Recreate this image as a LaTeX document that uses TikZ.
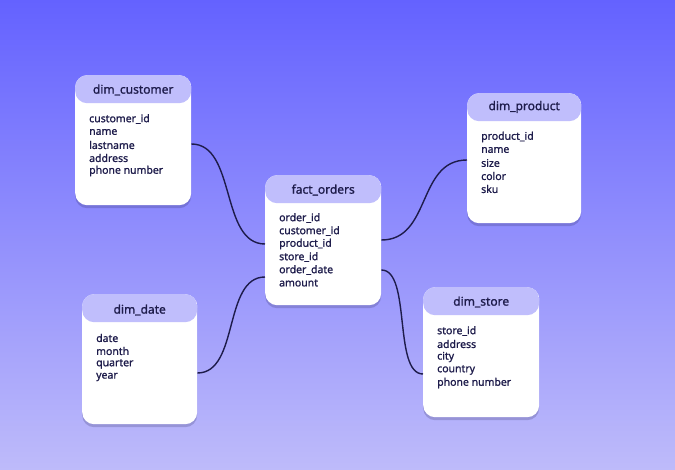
\documentclass[tikz,border=0pt]{standalone}
\usepackage{fontspec}
\setmainfont{Noto Sans}
\newfontfamily\medfont[FakeBold=1.1]{Noto Sans}
\usepackage{tikz}
\usetikzlibrary{positioning,shadows}

\definecolor{bgtop}{RGB}{100,98,255}
\definecolor{bgbot}{RGB}{190,187,250}
\definecolor{headfill}{RGB}{192,190,252}
\definecolor{ink}{RGB}{30,28,75}

\tikzset{
  table/.style={fill=white, rounded corners=12pt, minimum width=116pt,
    minimum height=130pt, anchor=north west, inner sep=0pt,
    drop shadow={shadow xshift=0pt, shadow yshift=-3pt, opacity=0.2, fill=ink},
    path picture={\fill[headfill] (path picture bounding box.north west)
      rectangle ([yshift=-28pt]path picture bounding box.north east);}},
  title/.style={font=\medfont\fontsize{12}{14}\selectfont, text=ink},
  field/.style={font=\medfont\fontsize{10.5}{13}\selectfont, text=ink, anchor=west, inner sep=0pt},
  link/.style={draw=ink, line width=1.4pt}
}

\begin{document}
\begin{tikzpicture}[x=1pt, y=-1pt]

% Background
\useasboundingbox (0,0) rectangle (675,470);
\shade[top color=bgtop, bottom color=bgbot] (0,0) rectangle (675,470);

% dim_customer
\node[table] (customer) at (75,75) {};
\node[title] (customer-t) at ([yshift=-15pt]customer.north) {dim\_customer};
\foreach \f [count=\i] in {customer\_id, name, lastname, address, phone number}
    \node[field] (customer-\i) at ([xshift=14pt, yshift={-31pt-13pt*\i}]customer.north west) {\f};

% fact_orders
\node[table] (orders) at (265,175) {};
\node[title] (orders-t) at ([yshift=-15pt]orders.north) {fact\_orders};
\foreach \f [count=\i] in {order\_id, customer\_id, product\_id, store\_id, order\_date, amount}
    \node[field] (orders-\i) at ([xshift=14pt, yshift={-30pt-13pt*\i}]orders.north west) {\f};

% dim_product
\node[table, minimum width=114pt] (product) at (467,93) {};
\node[title] (product-t) at ([yshift=-14pt]product.north) {dim\_product};
\foreach \f [count=\i] in {product\_id, name, size, color, sku}
    \node[field] (product-\i) at ([xshift=14pt, yshift={-31pt-13pt*\i}]product.north west) {\f};

% dim_date
\node[table, minimum width=115pt] (date) at (82,294) {};
\node[title] (date-t) at ([yshift=-16pt]date.north) {dim\_date};
\foreach \f [count=\i] in {date, month, quarter, year}
    \node[field] (date-\i) at ([xshift=14pt, yshift={-31pt-13pt*\i}]date.north west) {\f};

% dim_store
\node[table] (store) at (423,287) {};
\node[title] (store-t) at ([yshift=-15pt]store.north) {dim\_store};
\foreach \f [count=\i] in {store\_id, address, city, country, phone number}
    \node[field] (store-\i) at ([xshift=14pt, yshift={-31pt-13pt*\i}]store.north west) {\f};

% Links
\draw[link] ([yshift=-69pt]customer.north east) .. controls +(45,0) and +(-45,0) .. ([yshift=-69pt]orders.north west);
\draw[link] ([yshift=-79pt]date.north east) .. controls +(42,0) and +(-42,0) .. ([yshift=-102pt]orders.north west);
\draw[link] ([yshift=-65pt]orders.north east) .. controls +(50,0) and +(-50,0) .. ([yshift=-67pt]product.north west);
\draw[link] ([yshift=-95pt]orders.north east) .. controls +(30,0) and +(-30,0) .. ([yshift=-87pt]store.north west);

\end{tikzpicture}
\end{document}
